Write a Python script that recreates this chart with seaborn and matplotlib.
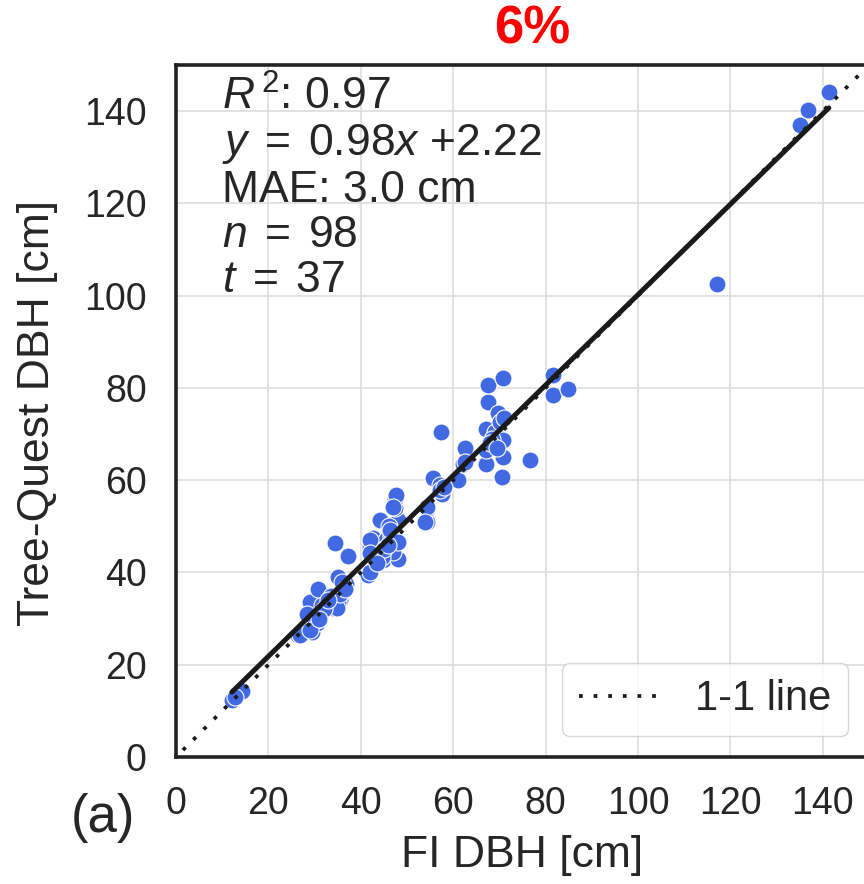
import numpy as np
import pandas as pd
import matplotlib
matplotlib.use("Agg")
import matplotlib.pyplot as plt
import seaborn as sns

# ---- data ----
fi_dbh = [12.1, 14.2, 12.8, 26.5, 28.3, 29.5, 30.5, 29.0, 30.1, 29.0, 31.5, 30.8, 34.0, 35.5,
          35.0, 33.5, 35.1, 36.9, 36.0, 34.4, 37.3, 41.6, 42.0, 42.0, 42.7, 43.8, 44.9, 45.5,
          44.2, 45.5, 46.5, 47.0, 47.4, 48.1, 48.1, 47.4, 47.4, 46.0, 47.0, 46.5, 54.3, 54.3,
          54.3, 55.7, 57.1, 57.5, 57.1, 57.3, 61.1, 62.2, 62.6, 62.6, 67.2, 67.2, 67.2, 67.6,
          67.6, 69.0, 69.8, 70.1, 70.5, 70.7, 70.8, 70.8, 68.5, 76.6, 81.7, 81.7, 84.9, 117.1,
          135.1, 136.8, 141.3, 34.8, 35.5, 30.5, 28.3, 26.8, 29.0, 46.3, 42.0, 47.7, 47.0, 48.1,
          44.5, 42.0, 53.9, 45.0, 43.5, 32.0, 33.0, 58.0, 68.0, 69.5, 71.0, 31.0, 36.5, 45.8]
tq_dbh = [12.4, 14.2, 13.0, 26.4, 27.9, 27.2, 29.0, 30.5, 31.5, 33.7, 33.0, 36.5, 32.2, 34.0,
          33.5, 35.0, 39.1, 37.6, 38.0, 46.3, 43.6, 39.4, 40.2, 45.6, 47.4, 43.8, 42.7, 44.5,
          51.4, 47.0, 45.5, 49.2, 47.4, 43.0, 51.4, 53.9, 56.0, 50.0, 44.5, 48.0, 51.0, 53.8,
          54.2, 60.4, 59.0, 57.1, 57.9, 70.5, 60.1, 63.6, 66.9, 64.0, 63.6, 66.5, 71.2, 76.9,
          80.6, 70.5, 74.5, 72.7, 60.7, 65.1, 68.7, 82.1, 69.0, 64.4, 82.8, 78.5, 79.7, 102.5,
          137.0, 140.2, 144.1, 32.2, 35.4, 29.7, 31.1, 26.4, 27.5, 49.2, 47.0, 56.8, 54.2, 46.7,
          43.4, 44.2, 51.0, 45.0, 42.0, 32.0, 34.0, 58.5, 68.0, 67.0, 73.5, 30.0, 36.5, 46.0]
one_to_one = [1.5, 150.0]
fit_slope = 0.98
fit_intercept = 2.22
stats_text = ("$R^{\\,2}$: 0.97\n$y\\;=\\;0.98x$ +2.22\nMAE: 3.0 cm\n"
              "$n\\;=\\;98$\n$t\\;=\\;37$")
x_label = "FI DBH [cm]"
y_label = "Tree-Quest DBH [cm]"
title_text = "6%"
panel_text = "(a)"
ticks = [0, 20, 40, 60, 80, 100, 120, 140]

df = pd.DataFrame({"FI": fi_dbh, "TQ": tq_dbh})

sns.set_theme(style="whitegrid")
plt.rcParams["font.family"] = ["Liberation Sans", "DejaVu Sans"]
plt.rcParams["mathtext.fontset"] = "custom"
plt.rcParams["mathtext.rm"] = "Liberation Sans"
plt.rcParams["mathtext.it"] = "Liberation Sans:italic"
plt.rcParams["mathtext.bf"] = "Liberation Sans:bold"

fig = plt.figure(figsize=(8.64, 8.84), dpi=100)
ax = fig.add_axes([176 / 864, 127 / 884, 693 / 864, 692 / 884])

sns.scatterplot(data=df, x="FI", y="TQ", ax=ax, color="royalblue", s=150,
                edgecolor="white", linewidth=0.8, zorder=3)

xfit = np.array([min(fi_dbh), max(fi_dbh)])
sns.lineplot(x=xfit, y=fit_slope * xfit + fit_intercept, ax=ax, color="#1a1a1a",
             linewidth=3.6, zorder=4)
ax.plot(one_to_one, one_to_one, color="#1a1a1a", linewidth=2.7, dashes=(1, 2.9),
        label="1-1 line", zorder=5)

ax.set_xlim(0, 150)
ax.set_ylim(0, 150)
ax.set_xticks(ticks)
ax.set_yticks(ticks)
ax.tick_params(axis="both", labelsize=27, length=0, pad=21, colors="#262626")
ax.grid(True, color="#dddddd", linewidth=1.2)
for side in ["left", "bottom", "top", "right"]:
    ax.spines[side].set_color("#222222")
    ax.spines[side].set_linewidth(2.6)

ax.set_xlabel(x_label, fontsize=32, color="#262626")
ax.set_ylabel(y_label, fontsize=32, color="#262626")
ax.xaxis.set_label_coords(0.5, -0.112)
ax.yaxis.set_label_coords(-0.17, 0.497)

ax.text(0.066, 0.985, stats_text, transform=ax.transAxes, va="top", ha="left",
        fontsize=32, color="#262626", linespacing=1.12)

leg = ax.legend(loc="lower right", fontsize=30, frameon=True, fancybox=True,
                borderaxespad=0.5, handlelength=2.0)
leg.get_frame().set_edgecolor("#cccccc")
for t in leg.get_texts():
    t.set_color("#262626")

fig.text(532 / 864, 1 - 30 / 884, title_text, color="red", fontweight="bold",
         fontsize=38, ha="center", va="center")
fig.text(103 / 864, 1 - 818 / 884, panel_text, fontsize=38, ha="center", va="center",
         color="#262626")

fig.savefig("out.png", dpi=100)
